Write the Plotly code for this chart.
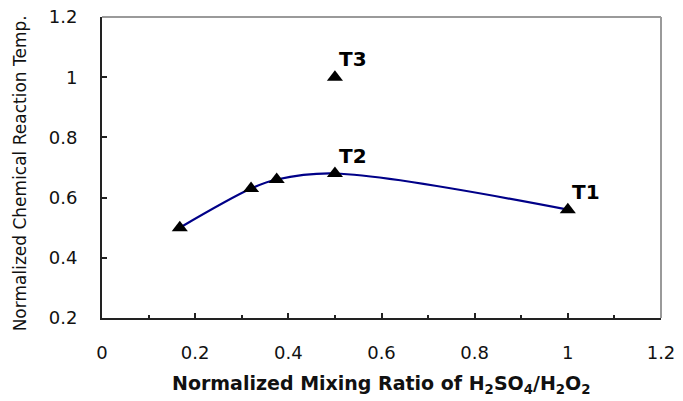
import plotly.graph_objects as go

# Data
ratio = [0.167, 0.32, 0.375, 0.5, 1.0]
temp = [0.50, 0.63, 0.66, 0.68, 0.56]

t3_ratio = [0.5]
t3_temp = [1.0]

label_names = ["T1", "T2", "T3"]
label_x = [1.0, 0.5, 0.5]
label_y = [0.56, 0.68, 1.0]

x_tickvals = [0, 0.2, 0.4, 0.6, 0.8, 1.0, 1.2]
x_ticktext = ["0", "0.2", "0.4", "0.6", "0.8", "1", "1.2"]
y_tickvals = [0.2, 0.4, 0.6, 0.8, 1.0, 1.2]
y_ticktext = ["0.2", "0.4", "0.6", "0.8", "1", "1.2"]

x_title = "Normalized Mixing Ratio of H<sub>2</sub>SO<sub>4</sub>/H<sub>2</sub>O<sub>2</sub>"
y_title = "Normalized Chemical Reaction Temp."

FONT = "DejaVu Sans"

fig = go.Figure()
fig.add_trace(go.Scatter(
    x=ratio, y=temp, mode="lines+markers",
    line=dict(color="#000088", width=2.2, shape="spline", smoothing=1.0),
    marker=dict(symbol="triangle-up", size=14, color="black"),
    showlegend=False,
))
fig.add_trace(go.Scatter(
    x=t3_ratio, y=t3_temp, mode="markers",
    marker=dict(symbol="triangle-up", size=14, color="black"),
    showlegend=False,
))

for name, lx, ly in zip(label_names, label_x, label_y):
    fig.add_annotation(
        x=lx, y=ly, text="<b>%s</b>" % name, showarrow=False,
        xanchor="left", yanchor="bottom", xshift=2, yshift=4,
        font=dict(family=FONT, size=20, color="black"),
    )

# axis titles placed as annotations
fig.add_annotation(
    xref="paper", yref="paper", x=-0.147, y=0.48,
    text=y_title, textangle=-90, showarrow=False,
    xanchor="center", yanchor="middle",
    font=dict(family=FONT, size=17, color="#111"),
)
fig.add_annotation(
    xref="paper", yref="paper", x=0.5, y=-0.222,
    text="<b>%s</b>" % x_title, showarrow=False,
    xanchor="center", yanchor="middle",
    font=dict(family=FONT, size=19, color="#111"),
)

# top and right border (gray)
fig.add_shape(type="line", xref="paper", yref="paper", x0=0, x1=1, y0=1, y1=1,
              line=dict(color="#9a9a9a", width=2))
fig.add_shape(type="line", xref="paper", yref="paper", x0=1, x1=1, y0=0, y1=1,
              line=dict(color="#9a9a9a", width=2))

fig.update_layout(
    width=683, height=401,
    margin=dict(l=102, r=22, t=17, b=83, autoexpand=False),
    paper_bgcolor="white", plot_bgcolor="white",
    font=dict(family=FONT, color="#111111"),
    xaxis=dict(
        range=[0, 1.2], tickvals=x_tickvals, ticktext=x_ticktext,
        ticks="inside", ticklen=5, tickwidth=2, tickcolor="#222",
        minor=dict(dtick=0.1, ticks="inside", ticklen=3, tickwidth=2, tickcolor="#222"),
        showline=True, linecolor="#222", linewidth=2,
        showgrid=False, zeroline=False, automargin=False,
        tickfont=dict(family=FONT, size=18, color="#111"),
        ticklabelstandoff=17,
    ),
    yaxis=dict(
        range=[0.2, 1.2], tickvals=y_tickvals, ticktext=y_ticktext,
        ticks="inside", ticklen=5, tickwidth=2, tickcolor="#222",
        showline=True, linecolor="#222", linewidth=2,
        showgrid=False, zeroline=False, automargin=False,
        tickfont=dict(family=FONT, size=18, color="#111"),
        ticklabelstandoff=19,
    ),
)

fig.write_html("out.html")
